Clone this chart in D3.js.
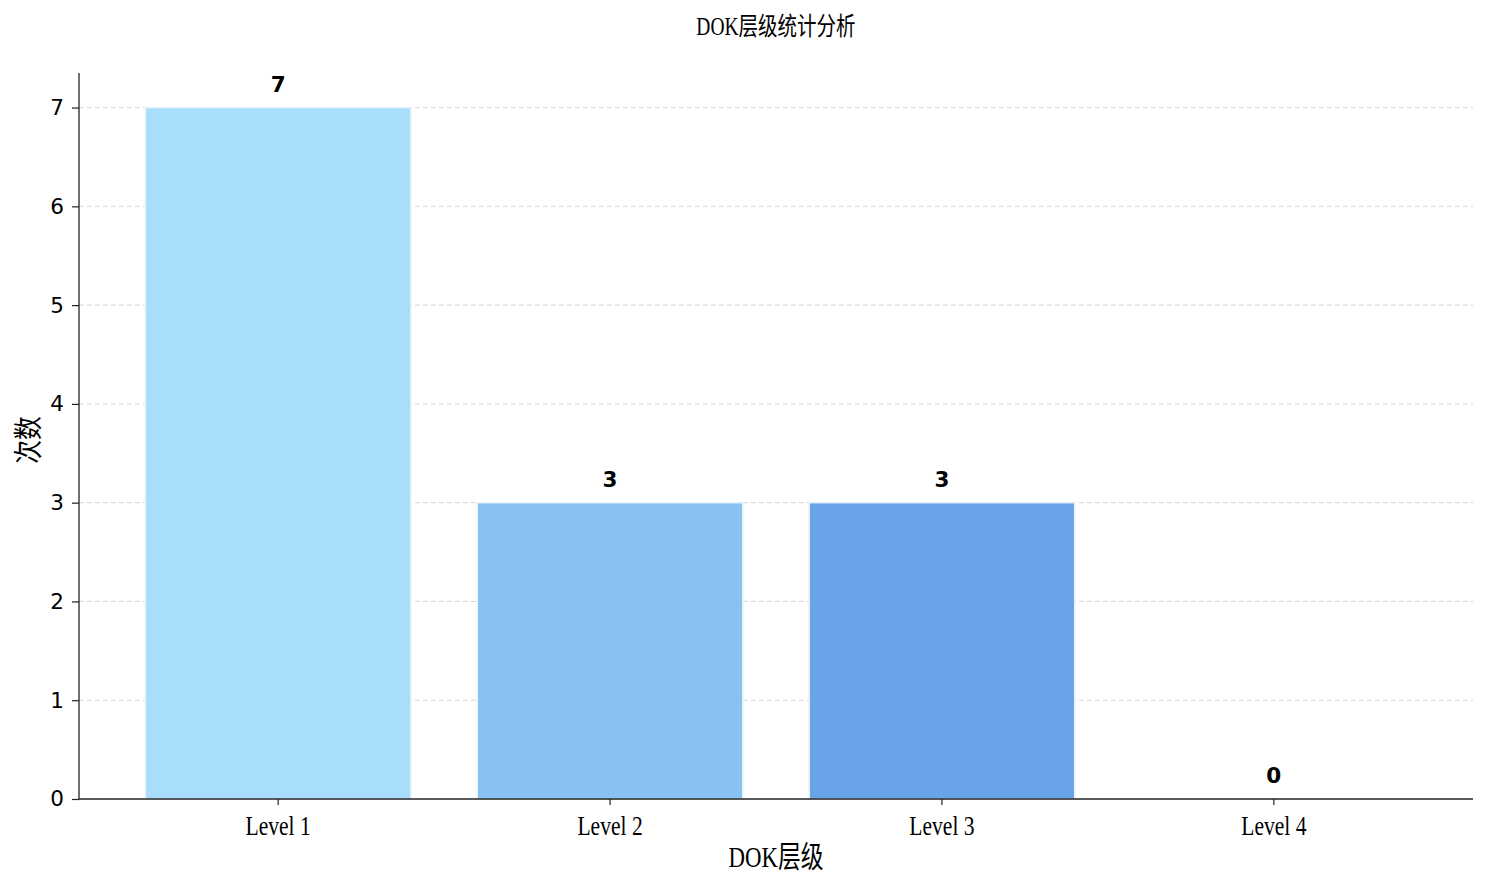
<!DOCTYPE html>
<html>
<head>
<meta charset="utf-8">
<script src="https://cdn.jsdelivr.net/npm/d3@7"></script>
<style>
  body { margin: 0; background: #fff; }
  .serif { font-family: "Liberation Serif", "Noto Sans CJK SC", serif; }
  .ytick text { font-family: "DejaVu Sans", sans-serif; font-size: 21.5px; }
  .val { font-family: "DejaVu Sans", sans-serif; font-size: 21.5px; font-weight: bold; }
</style>
</head>
<body>
<svg id="chart" width="1488" height="889"></svg>
<script>
// data
const categories = ["Level 1", "Level 2", "Level 3", "Level 4"];
const counts = [7, 3, 3, 0];
const barColors = ["#a8ddfc", "#89c2f2", "#6aa4e8", "#4a86d8"];
const yTicks = [0, 1, 2, 3, 4, 5, 6, 7];

const margin = { top: 73, right: 15, bottom: 90, left: 79 };
const W = 1488, H = 889;
const svg = d3.select("#chart");

// squeeze text horizontally, the reference font is tall and narrow
function condense(sel, k) {
    sel.each(function () {
        const len = this.getComputedTextLength();
        d3.select(this).attr("textLength", len * k).attr("lengthAdjust", "spacingAndGlyphs");
    });
}

const x = d3.scaleBand()
    .domain(categories)
    .range([margin.left, W - margin.right])
    .paddingInner(0.2)
    .paddingOuter(0.2);

const y = d3.scaleLinear()
    .domain([0, d3.max(counts) * 1.05])
    .range([H - margin.bottom, margin.top]);

// grid lines
svg.append("g")
    .selectAll("line")
    .data(yTicks.filter(d => d > 0))
    .enter().append("line")
    .attr("x1", margin.left)
    .attr("x2", W - margin.right)
    .attr("y1", d => y(d))
    .attr("y2", d => y(d))
    .attr("stroke", "#d6d6d6")
    .attr("stroke-width", 1)
    .attr("stroke-dasharray", "5,3");

// bars
svg.append("g")
    .selectAll("rect")
    .data(counts)
    .enter().append("rect")
    .attr("x", (d, i) => x(categories[i]))
    .attr("width", x.bandwidth())
    .attr("y", d => y(d))
    .attr("height", d => y(0) - y(d))
    .attr("fill", (d, i) => barColors[i])
    .attr("stroke", "#e8f2fa")
    .attr("stroke-width", 1.5);

// value labels
svg.append("g")
    .selectAll("text")
    .data(counts)
    .enter().append("text")
    .attr("class", "val")
    .attr("x", (d, i) => x(categories[i]) + x.bandwidth() / 2)
    .attr("y", d => y(d) - 16)
    .attr("text-anchor", "middle")
    .text(d => d);

// y axis
const yAxis = svg.append("g")
    .attr("class", "ytick")
    .attr("transform", "translate(" + margin.left + ",0)")
    .call(d3.axisLeft(y).tickValues(yTicks).tickFormat(d3.format("d")).tickSize(7).tickPadding(8));
yAxis.select(".domain").attr("stroke", "#222").attr("stroke-width", 1.3).attr("d", "M0," + y.range()[0] + "V" + y.range()[1]);
yAxis.selectAll(".tick line").attr("stroke", "#222").attr("stroke-width", 1.2);
yAxis.selectAll("text").attr("fill", "#000");

// x axis
const xAxis = svg.append("g")
    .attr("transform", "translate(0," + (H - margin.bottom) + ")")
    .call(d3.axisBottom(x).tickSize(6).tickPadding(10));
xAxis.select(".domain").attr("stroke", "#222").attr("stroke-width", 1.3).attr("d", "M" + margin.left + ",0H" + (W - margin.right));
xAxis.selectAll(".tick line").attr("stroke", "#222").attr("stroke-width", 1.2);
xAxis.selectAll("text")
    .attr("class", "serif")
    .attr("fill", "#000")
    .style("font-size", "28px")
    .call(condense, 0.77);

// title and axis labels
const cx = (margin.left + W - margin.right) / 2;
svg.append("text")
    .attr("class", "serif")
    .attr("x", cx)
    .attr("y", 35)
    .attr("text-anchor", "middle")
    .style("font-size", "25px")
    .text("DOK层级统计分析")
    .call(condense, 0.78);

svg.append("text")
    .attr("class", "serif")
    .attr("x", cx)
    .attr("y", 867)
    .attr("text-anchor", "middle")
    .style("font-size", "30px")
    .text("DOK层级")
    .call(condense, 0.76);

svg.append("text")
    .attr("class", "serif")
    .attr("transform", "translate(39,440) rotate(-90)")
    .attr("text-anchor", "middle")
    .style("font-size", "29px")
    .text("次数")
    .call(condense, 0.82);
</script>
</body>
</html>
